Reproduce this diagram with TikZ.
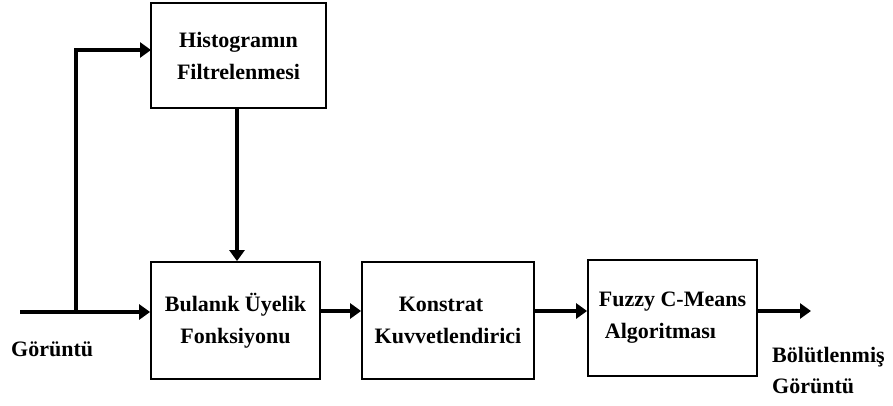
\documentclass[tikz,border=0pt]{standalone}
\usepackage{fontspec}
\setmainfont{Liberation Serif}
\usetikzlibrary{arrows.meta}
\tikzset{
  blk/.style={draw, line width=1.8pt, inner sep=0pt, align=center,
    font=\fontsize{22}{32}\selectfont\bfseries},
  conn/.style={line width=4pt, -{Triangle[length=11pt,width=15pt]}},
  lbl/.style={font=\fontsize{22}{31}\selectfont\bfseries, inner sep=0pt, align=left}
}
\begin{document}
\begin{tikzpicture}[x=1pt,y=-1pt]
\useasboundingbox (0,0) rectangle (893,406);
\node[blk, minimum width=175pt, minimum height=105pt] (hist) at (238.5,55.5) {Histogramın\\Filtrelenmesi};
\node[blk, minimum width=169pt, minimum height=117pt] (bul) at (235.5,320.5) {Bulanık Üyelik\\Fonksiyonu};
\node[blk, minimum width=172pt, minimum height=117pt] (kon) at (448,320.5) {Konstrat\hspace*{14pt}\\Kuvvetlendirici};
\node[blk, minimum width=169pt, minimum height=116pt, align=left] (fcm) at (672.5,318) {Fuzzy C-Means\\\hspace*{6pt}Algoritması};
\coordinate (start) at (20,312);
\coordinate (branch) at (76,312);
\coordinate (hin) at (151,50);
\coordinate (out) at (811,311);
\draw[conn] (start) -- (bul.west |- start);
\draw[conn] (branch) |- (hin);
\draw[conn] (hist.south -| 237,0) -- (bul.north -| 237,0);
\draw[conn] (bul.east |- 0,311) -- (kon.west |- 0,311);
\draw[conn] (kon.east |- 0,311) -- (fcm.west |- 0,311);
\draw[conn] (fcm.east |- 0,311) -- (out);
\node[lbl, anchor=west] (gin) at (11,349) {Görüntü};
\node[lbl, anchor=north west] (gout) at (772,347) {Bölütlenmiş\\Görüntü};
\end{tikzpicture}
\end{document}
